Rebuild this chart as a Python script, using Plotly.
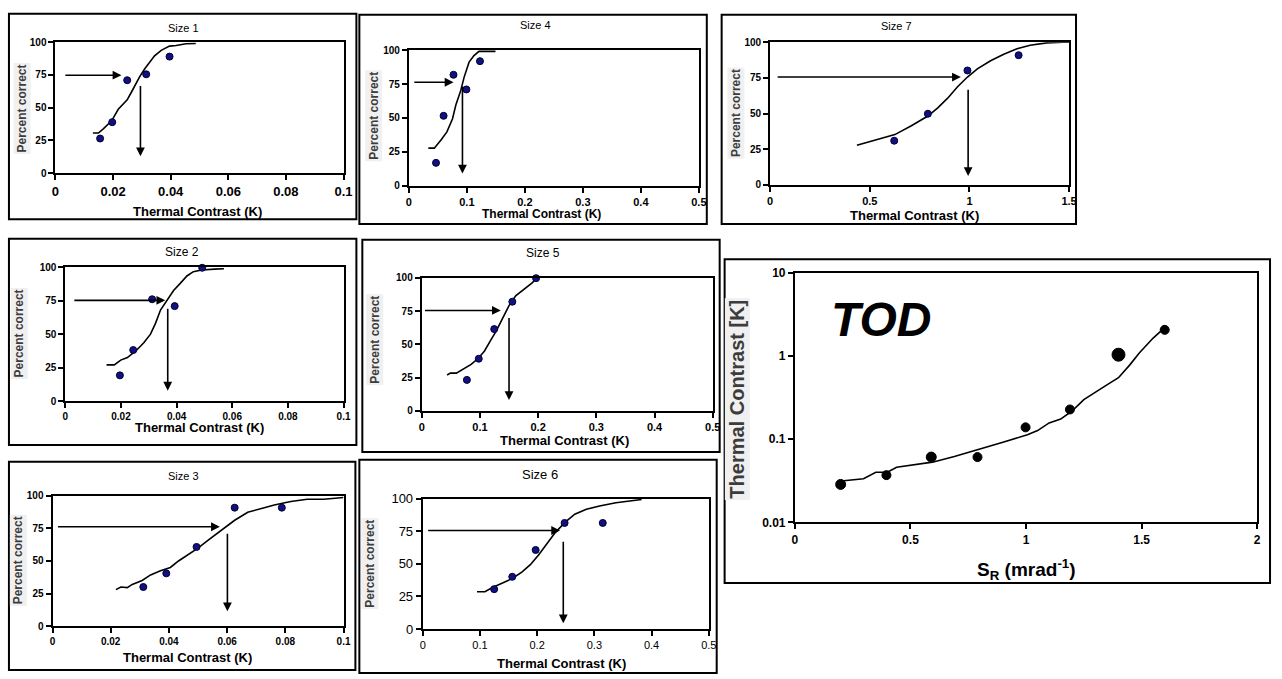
import plotly.graph_objects as go

W, H = 1282, 679

# ---------------- data ----------------
# Size 1
size1_pts_x = [0.0155, 0.0197, 0.0249, 0.0315, 0.0396]
size1_pts_y = [26.5, 39, 71, 75.5, 89]
size1_fit_x = [0.013, 0.0149, 0.0166, 0.0195, 0.0218, 0.0249, 0.0264, 0.0275, 0.0292, 0.031, 0.0344, 0.0367, 0.0396, 0.0419, 0.0453, 0.0487]
size1_fit_y = [30.7, 30.7, 33.9, 40, 48.8, 56, 62, 66.6, 73.5, 79.7, 89.6, 93.8, 97, 97.5, 98.8, 99]
size1_h_arrow = [0.0029, 0.0229, 74.8]   # x start, x end, y
size1_v_arrow = [0.0295, 67.8, 12.9]     # x, y start, y end

# Size 2
size2_pts_x = [0.0196, 0.0244, 0.0312, 0.0393, 0.0492]
size2_pts_y = [19.2, 38.1, 76.0, 70.9, 99.5]
size2_fit_x = [0.0148, 0.0176, 0.0199, 0.0223, 0.0253, 0.0282, 0.0306, 0.0324, 0.0342, 0.0365, 0.0389, 0.0413, 0.0437, 0.046, 0.049, 0.0537, 0.057]
size2_fit_y = [27, 27, 30.6, 32.5, 37.4, 43.5, 50, 58, 68, 75.2, 82.5, 87.9, 93.4, 96.6, 97.8, 98.5, 98.8]
size2_h_arrow = [0.0027, 0.0359, 75.2]
size2_v_arrow = [0.0368, 70, 7.8]

# Size 3
size3_pts_x = [0.0312, 0.0391, 0.0495, 0.0626, 0.0788]
size3_pts_y = [30, 40.5, 60.8, 91, 91]
size3_fit_x = [0.0218, 0.0235, 0.0257, 0.0274, 0.0308, 0.0337, 0.0371, 0.0405, 0.0433, 0.0467, 0.0501, 0.0535, 0.058, 0.0626, 0.0671, 0.0711, 0.0762, 0.0819, 0.0875, 0.0932, 0.1]
size3_fit_y = [28, 30, 29.5, 32, 35, 39.3, 42.5, 45, 50, 55, 60, 66, 73.8, 81.3, 87.5, 90, 93, 95.8, 97.5, 97.5, 98.8]
size3_h_arrow = [0.0014, 0.0575, 76.3]
size3_v_arrow = [0.0601, 72, 11.3]

# Size 4
size4_pts_x = [0.0468, 0.0599, 0.077, 0.0992, 0.1226]
size4_pts_y = [17, 51.6, 81.8, 71, 91.8]
size4_fit_x = [0.0336, 0.0439, 0.0564, 0.0656, 0.0753, 0.081, 0.0895, 0.0952, 0.1038, 0.1123, 0.1209, 0.1351, 0.1494]
size4_fit_y = [27.8, 27.8, 34.3, 39.8, 49.4, 59.5, 70.3, 79.9, 91.1, 95.9, 99, 99, 99]
size4_h_arrow = [0.0068, 0.077, 76.3]
size4_v_arrow = [0.0924, 74.3, 9.1]

# Size 5
size5_pts_x = [0.0776, 0.098, 0.1246, 0.1557, 0.1965]
size5_pts_y = [23.3, 39.2, 61.5, 82.1, 99.8]
size5_fit_x = [0.0436, 0.0493, 0.0595, 0.0708, 0.0849, 0.0963, 0.1076, 0.1189, 0.1274, 0.1387, 0.15, 0.1614, 0.1784, 0.1897, 0.1954]
size5_fit_y = [27, 28.4, 28.4, 31.4, 35, 39.2, 44.9, 53.4, 59.6, 69.4, 79.2, 86.5, 92.2, 96.3, 98.8]
size5_h_arrow = [0.003, 0.1359, 75.5]
size5_v_arrow = [0.15, 71, 8.1]

# Size 6
size6_pts_x = [0.1249, 0.1565, 0.1974, 0.248, 0.3147]
size6_pts_y = [30.6, 40.1, 60.7, 81.5, 81.5]
size6_fit_x = [0.0949, 0.1087, 0.122, 0.1392, 0.1565, 0.1738, 0.1881, 0.2025, 0.2169, 0.2313, 0.2486, 0.2658, 0.286, 0.309, 0.3377, 0.3636, 0.3826]
size6_fit_y = [28.6, 28.6, 31.8, 35.1, 38.8, 43.9, 49.4, 56.9, 65.7, 73.9, 81.9, 88.2, 92, 94.5, 97, 98.7, 99.5]
size6_h_arrow = [0.0069, 0.24, 75.7]
size6_v_arrow = [0.2457, 68.2, 4.3]

# Size 7
size7_pts_x = [0.6225, 0.7914, 0.99, 1.2467]
size7_pts_y = [31, 49.9, 80.2, 90.9]
size7_fit_x = [0.4354, 0.5265, 0.6258, 0.7086, 0.7914, 0.8411, 0.8907, 0.9404, 0.99, 1.0397, 1.106, 1.1722, 1.2384, 1.3046, 1.3874, 1.4702, 1.528]
size7_fit_y = [27.8, 31.2, 35.3, 41.5, 48.3, 54, 60.8, 68.8, 75.6, 81.3, 87, 91.6, 95.4, 97.9, 99.5, 100, 100]
size7_h_arrow = [0.03, 0.957, 75.6]
size7_v_arrow = [0.9934, 67.7, 6.2]

# TOD summary (threshold vs spatial frequency)
tod_pts_x = [0.198, 0.396, 0.59, 0.79, 0.998, 1.19, 1.40, 1.60]
tod_pts_y = [0.0286, 0.037, 0.061, 0.061, 0.139, 0.228, 1.04, 2.07]
tod_pts_size = [10, 9, 10, 9, 9, 9, 13, 9]
tod_fit_x = [0.19, 0.297, 0.35, 0.40, 0.44, 0.595, 0.69, 0.81, 0.90, 1.006, 1.05, 1.10, 1.15, 1.20, 1.25, 1.35, 1.40, 1.45, 1.49, 1.55, 1.60]
tod_fit_y = [0.0313, 0.0335, 0.040, 0.040, 0.046, 0.053, 0.062, 0.077, 0.092, 0.113, 0.127, 0.157, 0.175, 0.22, 0.30, 0.45, 0.55, 0.79, 1.09, 1.65, 2.2]
tod_y_ticks = [0.01, 0.1, 1, 10]
tod_y_ticktext = ["0.01", "0.1", "1", "10"]

pct_ticks = [0, 25, 50, 75, 100]

panels = [
    dict(title="Size 1", px=size1_pts_x, py=size1_pts_y, fx=size1_fit_x, fy=size1_fit_y,
         ha=size1_h_arrow, va=size1_v_arrow, xmax=0.1, dtick=0.02),
    dict(title="Size 4", px=size4_pts_x, py=size4_pts_y, fx=size4_fit_x, fy=size4_fit_y,
         ha=size4_h_arrow, va=size4_v_arrow, xmax=0.5, dtick=0.1),
    dict(title="Size 7", px=size7_pts_x, py=size7_pts_y, fx=size7_fit_x, fy=size7_fit_y,
         ha=size7_h_arrow, va=size7_v_arrow, xmax=1.5, dtick=0.5),
    dict(title="Size 2", px=size2_pts_x, py=size2_pts_y, fx=size2_fit_x, fy=size2_fit_y,
         ha=size2_h_arrow, va=size2_v_arrow, xmax=0.1, dtick=0.02),
    dict(title="Size 5", px=size5_pts_x, py=size5_pts_y, fx=size5_fit_x, fy=size5_fit_y,
         ha=size5_h_arrow, va=size5_v_arrow, xmax=0.5, dtick=0.1),
    dict(title="Size 3", px=size3_pts_x, py=size3_pts_y, fx=size3_fit_x, fy=size3_fit_y,
         ha=size3_h_arrow, va=size3_v_arrow, xmax=0.1, dtick=0.02),
    dict(title="Size 6", px=size6_pts_x, py=size6_pts_y, fx=size6_fit_x, fy=size6_fit_y,
         ha=size6_h_arrow, va=size6_v_arrow, xmax=0.5, dtick=0.1),
]

# ---------------- layout (pixel positions) ----------------
styles = [
    dict(plot=(52, 36, 343, 170), frame=(5, 7, 356, 217), t=(181, 21), yl=(18, 104), xl=(195, 209),
         xt=13, yt=10, bold=True, ts=11, xs=13),
    dict(plot=(409, 44, 702, 183), frame=(359, 8, 710, 222), t=(537, 18), yl=(373, 111), xl=(543, 212),
         xt=11, yt=10, bold=True, ts=11, xs=12),
    dict(plot=(774, 36, 1076, 182), frame=(725, 8, 1083, 222), t=(902, 19), yl=(739, 109), xl=(920, 213),
         xt=11, yt=10, bold=True, ts=11, xs=13),
    dict(plot=(62, 266, 343, 403), frame=(5, 237, 356, 448), t=(180, 251), yl=(15, 334), xl=(197, 430),
         xt=10, yt=10, bold=True, ts=12, xs=13),
    dict(plot=(422, 277, 716, 413), frame=(362, 238, 723, 455), t=(545, 252), yl=(375, 340), xl=(566, 443),
         xt=11, yt=10, bold=True, ts=12, xs=13),
    dict(plot=(49, 500, 343, 633), frame=(5, 465, 355, 678), t=(181, 480), yl=(15, 566), xl=(185, 665),
         xt=10, yt=10, bold=True, ts=11, xs=13),
    dict(plot=(423, 503, 712, 636), frame=(359, 463, 720, 681), t=(541, 478), yl=(370, 569), xl=(563, 671),
         xt=11, yt=13, bold=False, ts=13, xs=13),
]
tod_style = dict(plot=(799, 272, 1266, 527), frame=(728, 258, 1279, 589))

FONT = "Liberation Sans, Arial, Helvetica, sans-serif"


def fx(px):
    return px / W


def fy(py):
    return 1 - py / H


fig = go.Figure()
layout = dict(
    width=W, height=H, margin=dict(l=0, r=0, t=0, b=0),
    paper_bgcolor="white", plot_bgcolor="white", showlegend=False,
    font=dict(family=FONT, color="black"),
)
shapes = []
annotations = []

axis_common = dict(showline=True, linecolor="black", linewidth=2, mirror=True,
                   ticks="outside", ticklen=5, tickwidth=2, tickcolor="black",
                   showgrid=False, zeroline=False, fixedrange=True)

for i, (p, s) in enumerate(zip(panels, styles), start=1):
    xa = "x" if i == 1 else f"x{i}"
    ya = "y" if i == 1 else f"y{i}"
    x0, y0, x1, y1 = s["plot"]
    weight = "bold" if s["bold"] else "normal"
    layout["xaxis" if i == 1 else f"xaxis{i}"] = dict(
        axis_common, domain=[fx(x0), fx(x1)], anchor=ya, range=[0, p["xmax"]],
        tick0=0, dtick=p["dtick"],
        tickfont=dict(family=FONT, size=s["xt"], weight=weight, color="black"))
    layout["yaxis" if i == 1 else f"yaxis{i}"] = dict(
        axis_common, domain=[fy(y1), fy(y0)], anchor=xa, range=[0, 100],
        tickvals=pct_ticks,
        tickfont=dict(family=FONT, size=s["yt"], weight=weight, color="black"))

    fig.add_trace(go.Scatter(x=p["fx"], y=p["fy"], mode="lines", xaxis=xa, yaxis=ya,
                             line=dict(color="black", width=1.6), hoverinfo="skip"))
    fig.add_trace(go.Scatter(x=p["px"], y=p["py"], mode="markers", xaxis=xa, yaxis=ya,
                             marker=dict(size=7, color="#101080", opacity=1,
                                         line=dict(color="#000033", width=1)),
                             cliponaxis=False))

    ha, va = p["ha"], p["va"]
    annotations.append(dict(x=ha[1], y=ha[2], ax=ha[0], ay=ha[2], xref=xa, yref=ya, axref=xa, ayref=ya,
                            text="", showarrow=True, arrowhead=2, arrowsize=1.1, arrowwidth=1.6,
                            arrowcolor="black"))
    annotations.append(dict(x=va[0], y=va[2], ax=va[0], ay=va[1], xref=xa, yref=ya, axref=xa, ayref=ya,
                            text="", showarrow=True, arrowhead=2, arrowsize=1.1, arrowwidth=1.6,
                            arrowcolor="black"))

    fx0, fy0, fx1, fy1 = s["frame"]
    shapes.append(dict(type="rect", xref="paper", yref="paper", x0=fx(fx0), x1=fx(fx1),
                       y0=fy(fy1), y1=fy(fy0), line=dict(color="black", width=2)))

    annotations.append(dict(text=p["title"], xref="paper", yref="paper", x=fx(s["t"][0]), y=fy(s["t"][1]),
                            xanchor="center", yanchor="middle", showarrow=False,
                            font=dict(family=FONT, size=s["ts"], color="black")))
    annotations.append(dict(text="Percent correct", xref="paper", yref="paper",
                            x=fx(s["yl"][0]), y=fy(s["yl"][1]), textangle=-90,
                            xanchor="center", yanchor="middle", showarrow=False,
                            bgcolor="#f0f0f0",
                            font=dict(family=FONT, size=12, weight="bold", color="#3c3c3c")))
    annotations.append(dict(text="Thermal Contrast (K)", xref="paper", yref="paper",
                            x=fx(s["xl"][0]), y=fy(s["xl"][1]),
                            xanchor="center", yanchor="middle", showarrow=False,
                            font=dict(family=FONT, size=s["xs"], weight="bold", color="black")))

# ---------------- TOD panel ----------------
k = len(panels) + 1
xa, ya = f"x{k}", f"y{k}"
x0, y0, x1, y1 = tod_style["plot"]
layout[f"xaxis{k}"] = dict(axis_common, domain=[fx(x0), fx(x1)], anchor=ya, range=[0, 2],
                           tick0=0, dtick=0.5,
                           tickfont=dict(family=FONT, size=12, weight="bold", color="black"))
layout[f"yaxis{k}"] = dict(axis_common, domain=[fy(y1), fy(y0)], anchor=xa, type="log",
                           range=[-2, 1], tickvals=tod_y_ticks, ticktext=tod_y_ticktext,
                           tickfont=dict(family=FONT, size=12, weight="bold", color="black"))
fig.add_trace(go.Scatter(x=tod_fit_x, y=tod_fit_y, mode="lines", xaxis=xa, yaxis=ya,
                         line=dict(color="black", width=1.6)))
fig.add_trace(go.Scatter(x=tod_pts_x, y=tod_pts_y, mode="markers", xaxis=xa, yaxis=ya,
                         marker=dict(size=tod_pts_size, color="black", opacity=1,
                                     line=dict(color="black", width=1)),
                         cliponaxis=False))
fx0, fy0, fx1, fy1 = tod_style["frame"]
shapes.append(dict(type="rect", xref="paper", yref="paper", x0=fx(fx0), x1=fx(fx1),
                   y0=fy(fy1), y1=fy(fy0), line=dict(color="black", width=2)))
annotations.append(dict(text="<b><i>TOD</i></b>", xref="paper", yref="paper", x=fx(886), y=fy(320),
                        xanchor="center", yanchor="middle", showarrow=False,
                        font=dict(family=FONT, size=48, color="black")))
annotations.append(dict(text="Thermal Contrast [K]", xref="paper", yref="paper", x=fx(741), y=fy(401),
                        textangle=-90, xanchor="center", yanchor="middle", showarrow=False,
                        bgcolor="#f0f0f0",
                        font=dict(family=FONT, size=20, weight="bold", color="#3c3c3c")))
annotations.append(dict(text="S<sub>R</sub> (mrad<sup>-1</sup>)", xref="paper", yref="paper",
                        x=fx(1033), y=fy(575), xanchor="center", yanchor="middle", showarrow=False,
                        font=dict(family=FONT, size=19, weight="bold", color="black")))

layout["shapes"] = shapes
layout["annotations"] = annotations
fig.update_layout(**layout)

post = (
    "document.documentElement.style.margin='0';"
    "document.body.style.margin='0';"
    "document.body.style.overflow='hidden';"
    "var gd=document.getElementById('{plot_id}');"
    "gd.style.position='fixed';gd.style.left='0px';gd.style.top='0px';"
)
fig.write_html("out.html", config={"displayModeBar": False}, post_script=post)
